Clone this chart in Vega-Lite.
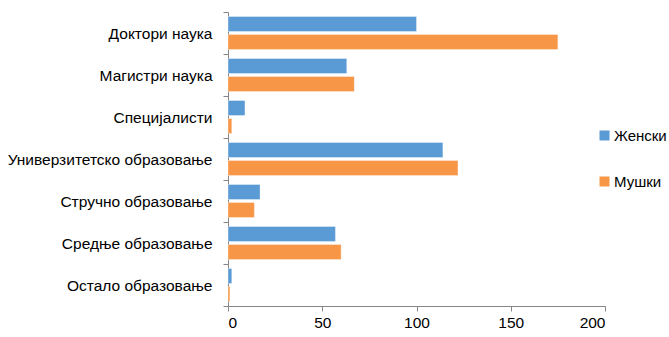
{
  "$schema": "https://vega.github.io/schema/vega-lite/v6.json",
  "width": 377,
  "height": 294,
  "autosize": "none",
  "padding": {"left": 228, "top": 12, "right": 64, "bottom": 31},
  "background": "white",
  "config": {
    "view": {"stroke": null},
    "font": "Liberation Sans, Arial, sans-serif"
  },
  "data": {
    "values": [
      {"cat": "Доктори наука", "pol": "Женски", "v": 100},
      {"cat": "Доктори наука", "pol": "Мушки", "v": 175},
      {"cat": "Магистри наука", "pol": "Женски", "v": 63},
      {"cat": "Магистри наука", "pol": "Мушки", "v": 67},
      {"cat": "Специјалисти", "pol": "Женски", "v": 9},
      {"cat": "Специјалисти", "pol": "Мушки", "v": 2},
      {"cat": "Универзитетско образовање", "pol": "Женски", "v": 114},
      {"cat": "Универзитетско образовање", "pol": "Мушки", "v": 122},
      {"cat": "Стручно образовање", "pol": "Женски", "v": 17},
      {"cat": "Стручно образовање", "pol": "Мушки", "v": 14},
      {"cat": "Средње образовање", "pol": "Женски", "v": 57},
      {"cat": "Средње образовање", "pol": "Мушки", "v": 60},
      {"cat": "Остало образовање", "pol": "Женски", "v": 2},
      {"cat": "Остало образовање", "pol": "Мушки", "v": 1}
    ]
  },
  "mark": {"type": "bar", "stroke": "#ffffff", "strokeOpacity": 0.35, "strokeWidth": 1},
  "encoding": {
    "y": {
      "field": "cat",
      "type": "nominal",
      "sort": null,
      "scale": {"paddingInner": 0, "paddingOuter": 0},
      "axis": {
        "title": null,
        "tickBand": "extent",
        "domainColor": "#868686",
        "tickColor": "#868686",
        "tickSize": 5,
        "labelFontSize": 15.5,
        "labelColor": "#000000",
        "labelPadding": 11,
        "labelLimit": 0
      }
    },
    "yOffset": {
      "field": "pol",
      "type": "nominal",
      "scale": {"paddingInner": 0.167, "paddingOuter": 0.25}
    },
    "x": {
      "field": "v",
      "type": "quantitative",
      "scale": {"domain": [0, 200], "nice": false},
      "axis": {
        "title": null,
        "values": [0, 50, 100, 150, 200],
        "grid": false,
        "domainColor": "#868686",
        "tickColor": "#868686",
        "tickSize": 5,
        "labelFontSize": 15.5,
        "labelColor": "#000000",
        "labelPadding": 4
      }
    },
    "color": {
      "field": "pol",
      "type": "nominal",
      "scale": {"domain": ["Женски", "Мушки"], "range": ["#5B9BD5", "#F79646"]},
      "legend": {
        "title": null,
        "orient": "none",
        "legendX": 369,
        "legendY": 116,
        "symbolType": "square",
        "symbolSize": 100,
        "symbolStrokeWidth": 0,
        "symbolOpacity": 1,
        "labelFontSize": 15,
        "labelColor": "#000000",
        "labelOffset": 2,
        "rowPadding": 30,
        "labelLimit": 0
      }
    }
  }
}
